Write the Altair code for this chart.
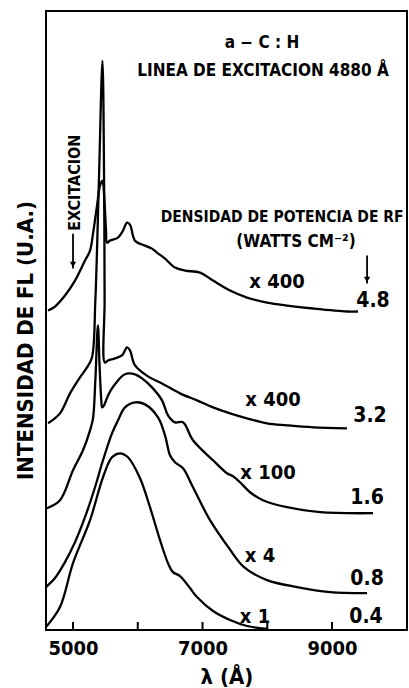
import altair as alt
import pandas as pd

# ---- curve data (wavelength in Å, intensity in arbitrary offset units) ----
wl_48 = [4614, 4722, 4876, 5031, 5185, 5263, 5309, 5371, 5417, 5455, 5485, 5510, 5525, 5571, 5695, 5772, 5834, 5880, 5958, 6112, 6220, 6297, 6421, 6575, 6730, 6961, 7162, 7425, 7687, 7996, 8305, 8707, 9232, 9402]
in_48 = [320, 324, 335, 350, 370, 380, 397, 425, 445, 450, 430, 400, 388, 390, 393, 400, 408, 406, 390, 385, 382, 378, 372, 363, 360, 358, 350, 340, 333, 328, 325, 322, 319, 319]

wl_32 = [4614, 4799, 4954, 5108, 5216, 5293, 5345, 5400, 5455, 5480, 5488, 5492, 5541, 5649, 5757, 5834, 5880, 5958, 6158, 6375, 6653, 6915, 7162, 7425, 7687, 7996, 8305, 8707, 9232]
in_32 = [207, 217, 237, 253, 263, 273, 330, 450, 570, 450, 330, 268, 270, 272, 275, 283, 280, 265, 254, 247, 237, 230, 223, 217, 212, 207, 205, 203, 202]

wl_16 = [4598, 4799, 5000, 5154, 5263, 5309, 5345, 5385, 5410, 5437, 5450, 5479, 5541, 5602, 5695, 5772, 5849, 5958, 6066, 6220, 6375, 6467, 6575, 6699, 6853, 7162, 7378, 7471, 7579, 7734, 7934, 8305, 8815, 9633]
in_16 = [122, 130, 160, 180, 200, 212, 250, 305, 265, 230, 223, 225, 235, 242, 250, 255, 257, 256, 252, 243, 230, 215, 208, 208, 190, 170, 157, 154, 148, 138, 130, 123, 118, 117]

wl_08 = [4583, 4722, 4876, 5031, 5185, 5340, 5463, 5602, 5695, 5803, 5958, 6112, 6313, 6421, 6498, 6575, 6699, 6853, 7116, 7409, 7641, 7996, 8459, 8969, 9541]
in_08 = [43, 52, 68, 88, 113, 143, 170, 197, 210, 223, 228, 226, 213, 195, 175, 168, 162, 143, 110, 82, 63, 50, 43, 38, 37]

wl_04 = [4583, 4799, 5000, 5263, 5463, 5602, 5726, 5849, 6035, 6189, 6344, 6467, 6544, 6653, 6807, 6915, 7162, 7425, 7687, 7996]
in_04 = [3, 23, 67, 110, 153, 173, 177, 173, 152, 123, 90, 67, 58, 54, 42, 33, 19, 10, 4, 1]

series = [("4.8", wl_48, in_48), ("3.2", wl_32, in_32), ("1.6", wl_16, in_16),
          ("0.8", wl_08, in_08), ("0.4", wl_04, in_04)]

# ---- axis ticks / labels ----
tick_values = [5000, 6000, 7000, 8000, 9000]
label_values = [5000, 7000, 9000]

# ---- annotations ----
ann_text = ["a − C : H", "LINEA DE EXCITACION 4880 Å", "DENSIDAD DE POTENCIA DE RF", "(WATTS CM⁻²)",
            "EXCITACION", "x 400", "4.8", "x 400", "3.2", "x 100", "1.6", "x 4", "0.8", "x 1", "0.4"]
ann_wl = [7919, 7934, 8230, 8444, 5031, 8151, 9633, 8089, 9587, 8012, 9541, 7888, 9541, 7811, 9525]
ann_in = [588, 560, 414, 389, 448, 349, 330, 230, 214, 157, 132, 74, 51, 13, 13]
ann_size = [17, 17, 15.5, 17, 16, 20, 21, 20, 21, 20, 21, 20, 21, 20, 21]
ann_angle = [0, 0, 0, 0, 270, 0, 0, 0, 0, 0, 0, 0, 0, 0, 0]

arrow_wl = [5000, 9541]
arrow_from = [397, 375]
arrow_to = [362, 347]

rows = []
for name, wl, inten in series:
    for i, (a, b) in enumerate(zip(wl, inten)):
        rows.append({"serie": name, "i": i, "wl": a, "inten": b})
curves = pd.DataFrame(rows)

ann = pd.DataFrame({"text": ann_text, "wl": ann_wl, "inten": ann_in,
                    "size": ann_size, "angle": ann_angle})
arrows = pd.DataFrame({"wl": arrow_wl, "inten": arrow_from, "y2": arrow_to})
arrows["head"] = arrows["y2"] + 4
ticks = pd.DataFrame({"wl": tick_values})

FONT = "DejaVu Sans Condensed"
xscale = alt.Scale(domain=[4583, 10158], nice=False, zero=False)
yscale = alt.Scale(domain=[0, 620], nice=False, zero=False)

xaxis = alt.Axis(values=label_values, format="d", ticks=False, domain=False, grid=False,
                 labelFont=FONT, labelFontSize=20, labelColor="black", labelPadding=8,
                 labelFontWeight="bold",
                 title="λ (Å)", titleFont=FONT, titleFontSize=22, titleFontWeight="bold",
                 titleColor="black", titlePadding=8)
yaxis = alt.Axis(labels=False, ticks=False, domain=False, grid=False,
                 title="INTENSIDAD DE FL (U.A.)", titleFont=FONT, titleFontSize=22,
                 titleFontWeight="bold", titleColor="black", titleAngle=270,
                 titleX=-21, titleY=329, titleAlign="center", titleBaseline="middle")

X = alt.X("wl:Q", scale=xscale, axis=xaxis)
Y = alt.Y("inten:Q", scale=yscale, axis=yaxis)

lines = alt.Chart(curves).mark_line(color="black", strokeWidth=2.3, interpolate="catmull-rom").encode(
    x=X, y=Y,
    detail="serie:N",
    order="i:Q",
)

tick_marks = alt.Chart(ticks).mark_rule(color="black", strokeWidth=2).encode(
    x=X,
    y=alt.value(619),
    y2=alt.value(611),
)

labels = alt.Chart(ann).mark_text(font=FONT, fontWeight="bold", color="black",
                                  align="center", baseline="middle").encode(
    x=X, y=Y,
    text="text:N",
    size=alt.Size("size:Q", scale=None, legend=None),
    angle=alt.Angle("angle:Q", scale=None),
)

arrow_lines = alt.Chart(arrows).mark_rule(color="black", strokeWidth=1.8).encode(
    x=X, y=Y,
    y2="y2:Q",
)
arrow_heads = alt.Chart(arrows).mark_point(shape="triangle-down", filled=True, color="black",
                                           size=40, opacity=1).encode(
    x=X,
    y=alt.Y("head:Q", scale=yscale, axis=yaxis),
)

chart = alt.layer(lines, tick_marks, arrow_lines, arrow_heads, labels).properties(
    width=361, height=619,
    autosize=alt.AutoSizeParams(type="none"),
    padding={"left": 46, "top": 11, "right": 2, "bottom": 58},
    background="white",
).configure_view(stroke="black", strokeWidth=2)

chart.save("out.html", embed_options={"renderer": "svg", "actions": False})
